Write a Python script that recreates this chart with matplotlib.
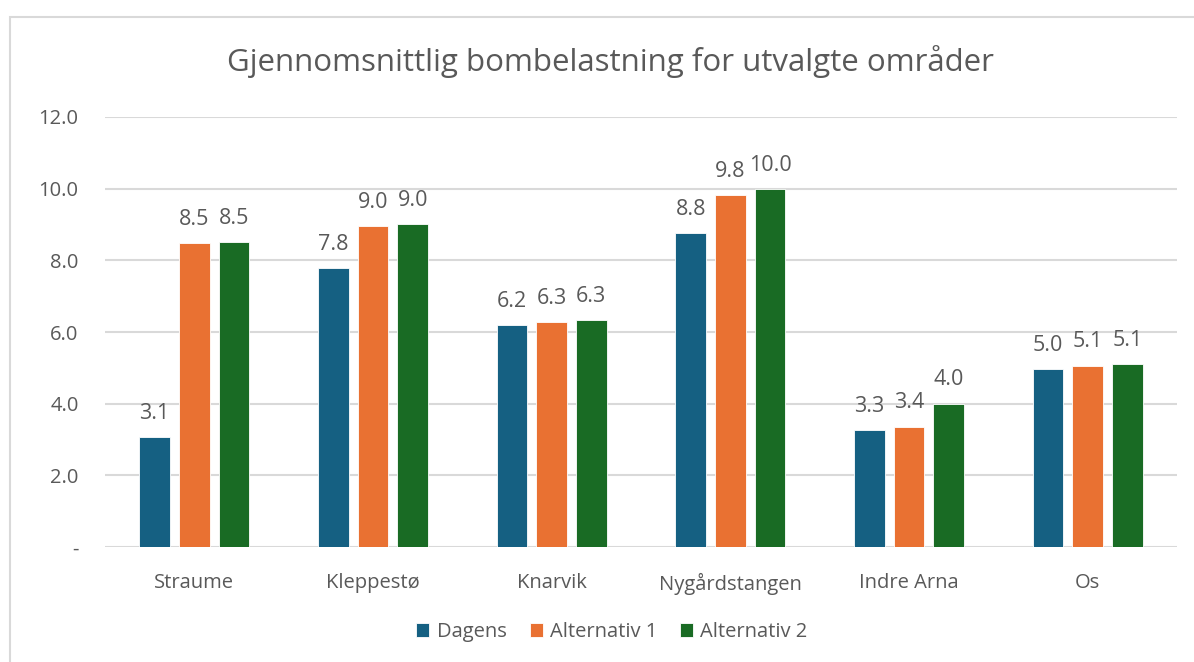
import matplotlib
matplotlib.use("Agg")
import matplotlib.pyplot as plt
from matplotlib.patches import Rectangle
import numpy as np

plt.rcParams['font.family'] = ['Open Sans', 'DejaVu Sans']

categories = ["Straume", "Kleppestø", "Knarvik", "Nygårdstangen", "Indre Arna", "Os"]
series_names = ["Dagens", "Alternativ 1", "Alternativ 2"]
dagens = [3.07, 7.79, 6.20, 8.76, 3.27, 4.97]
alt1 = [8.48, 8.96, 6.27, 9.82, 3.36, 5.06]
alt2 = [8.52, 9.01, 6.33, 9.99, 4.00, 5.11]
colors = ["#156082", "#E97132", "#196B24"]
yticks = [0, 2, 4, 6, 8, 10, 12]
title = "Gjennomsnittlig bombelastning for utvalgte områder"

text_color = "#595959"
grid_color = "#D9D9D9"

fig = plt.figure(figsize=(11.94, 6.62), dpi=100)
fig.patch.set_facecolor("white")
ax = fig.add_axes([105/1194, 1-547/662, (1177-105)/1194, (547-117)/662])

x = np.arange(len(categories))
bw = 0.173
step = 0.222
for i, (vals, name, c) in enumerate(zip([dagens, alt1, alt2], series_names, colors)):
    pos = x + (i - 1) * step
    bars = ax.bar(pos, vals, width=bw, color=c, label=name, zorder=3,
                  edgecolor="white", linewidth=0.6)
    for b, v in zip(bars, vals):
        ax.annotate(f"{v:.1f}", (b.get_x() + b.get_width()/2, v),
                    xytext=(0, 9.5), textcoords="offset points",
                    ha="center", va="bottom", fontsize=15.5, color=text_color)

ax.set_xlim(-0.5, len(categories) - 0.5)
ax.set_ylim(0, 12)
ax.set_yticks(yticks)
ax.set_yticklabels(["-" if v == 0 else f"{v:.1f}" for v in yticks])
ax.set_xticks(x)
ax.set_xticklabels(categories)
ax.tick_params(axis="y", length=0, pad=19, labelsize=14.5, labelcolor=text_color)
ax.tick_params(axis="x", length=0, pad=19, labelsize=14.5, labelcolor=text_color)
ax.grid(axis="y", color=grid_color, linewidth=1.5, zorder=0)
for s in ax.spines.values():
    s.set_visible(False)
ax.set_axisbelow(True)

fig.text(610/1194, 1-62/662, title, ha="center", va="center",
         fontsize=22.5, color=text_color)

leg = fig.legend(loc="center", bbox_to_anchor=(612/1194, 1-632/662), ncol=3,
                 frameon=False, fontsize=14.5, handlelength=0.65, handleheight=0.65,
                 handletextpad=0.35, columnspacing=1.15)
for t in leg.get_texts():
    t.set_color(text_color)

fig.patches.append(Rectangle((10/1194, -0.05), 1.1, 1-17/662 + 0.05,
                             transform=fig.transFigure, fill=False,
                             edgecolor=grid_color, linewidth=1.5, zorder=0))

fig.savefig("out.png", dpi=100)
